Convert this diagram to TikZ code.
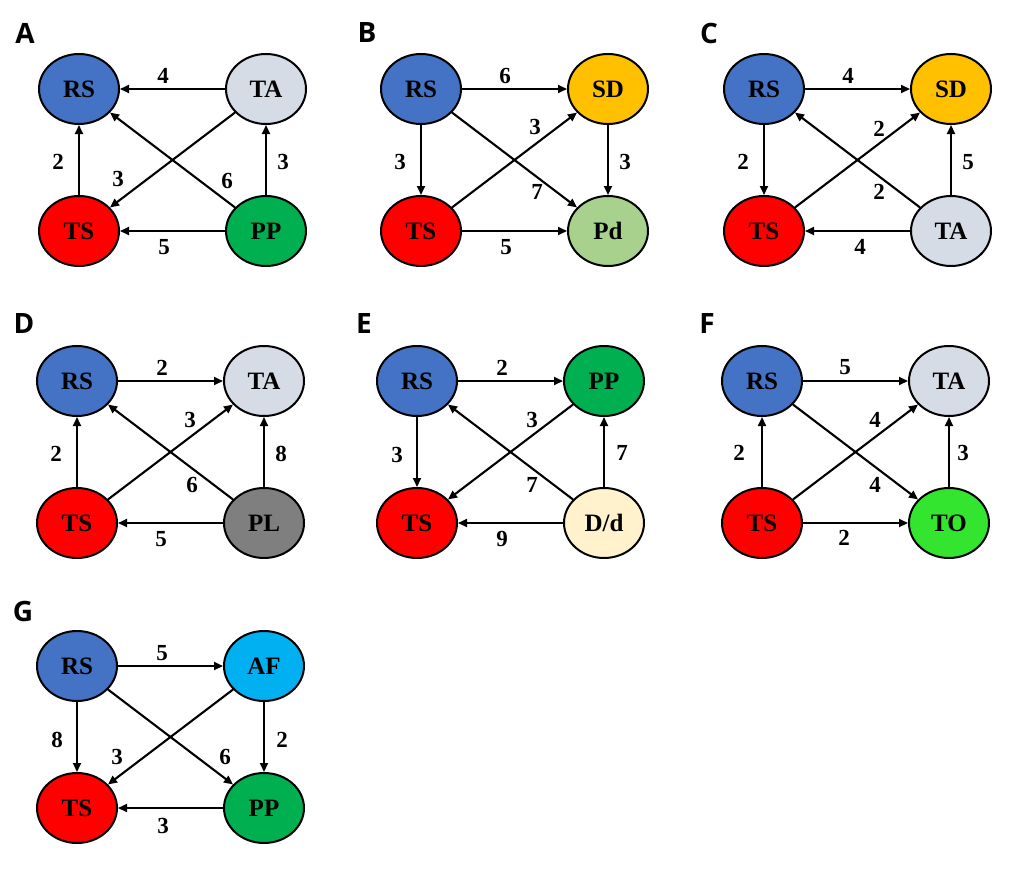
\documentclass[tikz,border=0pt]{standalone}
\usepackage{fontspec}
\setmainfont{Liberation Serif}
\newfontfamily\panelfont{Open Sans}
\usetikzlibrary{shapes.geometric,arrows.meta}
\definecolor{rsblue}{HTML}{4472C4}
\definecolor{tagray}{HTML}{D6DCE5}
\definecolor{tsred}{HTML}{FF0000}
\definecolor{ppgreen}{HTML}{00B050}
\definecolor{sdgold}{HTML}{FFC000}
\definecolor{pdgreen}{HTML}{A9D18E}
\definecolor{plgray}{HTML}{7F7F7F}
\definecolor{ddcream}{HTML}{FFF2CC}
\definecolor{togreen}{HTML}{33E52E}
\definecolor{afblue}{HTML}{00B0F0}
\tikzset{
  st/.style={ellipse, draw=black, line width=2pt, minimum width=80pt, minimum height=70pt, inner sep=0pt, font=\fontsize{25}{25}\selectfont\bfseries},
  arr/.style={line width=2.1pt, -{Triangle[length=9pt,width=8pt]}},
  num/.style={font=\fontsize{23}{23}\selectfont\bfseries, inner sep=0pt},
  plbl/.style={font=\fontsize{28}{28}\selectfont\panelfont\bfseries, inner sep=0pt}
}
\begin{document}
\begin{tikzpicture}[x=1pt,y=-1pt]
\useasboundingbox[fill=white] (0,0) rectangle (1010,870);
% Panel A
\begin{scope}[shift={(79,89)}]
\node[plbl] (aL) at (-54,-56) {A};
\node[st, fill=rsblue] (aRS) at (0,0) {RS};
\node[st, fill=tagray] (aTA) at (187,0) {TA};
\node[st, fill=tsred] (aTS) at (0,142) {TS};
\node[st, fill=ppgreen] (aPP) at (187,142) {PP};
\draw[arr] (aTA) -- (aRS);
\draw[arr] (aTS) -- (aRS);
\draw[arr] (aPP) -- (aTA);
\draw[arr] (aPP) -- (aTS);
\draw[arr] (aTA) -- (aTS);
\draw[arr] (aPP) -- (aRS);
\node[num] (aN1) at (84,-13) {4};
\node[num] (aN2) at (-21,73) {2};
\node[num] (aN3) at (204,73) {3};
\node[num] (aN4) at (85,158) {5};
\node[num] (aN5) at (39,90) {3};
\node[num] (aN6) at (148,92) {6};
\end{scope}
% Panel B
\begin{scope}[shift={(421,89)}]
\node[plbl] (bL) at (-54,-56) {B};
\node[st, fill=rsblue] (bRS) at (0,0) {RS};
\node[st, fill=sdgold] (bSD) at (187,0) {SD};
\node[st, fill=tsred] (bTS) at (0,142) {TS};
\node[st, fill=pdgreen] (bPd) at (187,142) {Pd};
\draw[arr] (bRS) -- (bSD);
\draw[arr] (bRS) -- (bTS);
\draw[arr] (bSD) -- (bPd);
\draw[arr] (bTS) -- (bPd);
\draw[arr] (bTS) -- (bSD);
\draw[arr] (bRS) -- (bPd);
\node[num] (bN1) at (84,-13) {6};
\node[num] (bN2) at (-21,73) {3};
\node[num] (bN3) at (204,73) {3};
\node[num] (bN4) at (85,158) {5};
\node[num] (bN5) at (114,38) {3};
\node[num] (bN6) at (116,103) {7};
\end{scope}
% Panel C
\begin{scope}[shift={(764,89)}]
\node[plbl] (cL) at (-55,-56) {C};
\node[st, fill=rsblue] (cRS) at (0,0) {RS};
\node[st, fill=sdgold] (cSD) at (187,0) {SD};
\node[st, fill=tsred] (cTS) at (0,142) {TS};
\node[st, fill=tagray] (cTA) at (187,142) {TA};
\draw[arr] (cRS) -- (cSD);
\draw[arr] (cRS) -- (cTS);
\draw[arr] (cTA) -- (cSD);
\draw[arr] (cTA) -- (cTS);
\draw[arr] (cTS) -- (cSD);
\draw[arr] (cTA) -- (cRS);
\node[num] (cN1) at (84,-13) {4};
\node[num] (cN2) at (-21,73) {2};
\node[num] (cN3) at (204,73) {5};
\node[num] (cN4) at (96,158) {4};
\node[num] (cN5) at (115,40) {2};
\node[num] (cN6) at (115,103) {2};
\end{scope}
% Panel D
\begin{scope}[shift={(77,381)}]
\node[plbl] (dL) at (-53,-57) {D};
\node[st, fill=rsblue] (dRS) at (0,0) {RS};
\node[st, fill=tagray] (dTA) at (187,0) {TA};
\node[st, fill=tsred] (dTS) at (0,142) {TS};
\node[st, fill=plgray] (dPL) at (187,142) {PL};
\draw[arr] (dRS) -- (dTA);
\draw[arr] (dTS) -- (dRS);
\draw[arr] (dPL) -- (dTA);
\draw[arr] (dPL) -- (dTS);
\draw[arr] (dTS) -- (dTA);
\draw[arr] (dPL) -- (dRS);
\node[num] (dN1) at (85,-13) {2};
\node[num] (dN2) at (-21,73) {2};
\node[num] (dN3) at (204,73) {8};
\node[num] (dN4) at (84,158) {5};
\node[num] (dN5) at (113,39) {3};
\node[num] (dN6) at (115,104) {6};
\end{scope}
% Panel E
\begin{scope}[shift={(417,381)}]
\node[plbl] (eL) at (-53,-57) {E};
\node[st, fill=rsblue] (eRS) at (0,0) {RS};
\node[st, fill=ppgreen] (ePP) at (187,0) {PP};
\node[st, fill=tsred] (eTS) at (0,142) {TS};
\node[st, fill=ddcream] (eDd) at (187,142) {D/d};
\draw[arr] (eRS) -- (ePP);
\draw[arr] (eRS) -- (eTS);
\draw[arr] (eDd) -- (ePP);
\draw[arr] (eDd) -- (eTS);
\draw[arr] (ePP) -- (eTS);
\draw[arr] (eDd) -- (eRS);
\node[num] (eN1) at (85,-13) {2};
\node[num] (eN2) at (-20,74) {3};
\node[num] (eN3) at (205,72) {7};
\node[num] (eN4) at (85,158) {9};
\node[num] (eN5) at (115,39) {3};
\node[num] (eN6) at (115,104) {7};
\end{scope}
% Panel F
\begin{scope}[shift={(762,381)}]
\node[plbl] (fL) at (-55,-57) {F};
\node[st, fill=rsblue] (fRS) at (0,0) {RS};
\node[st, fill=tagray] (fTA) at (187,0) {TA};
\node[st, fill=tsred] (fTS) at (0,142) {TS};
\node[st, fill=togreen] (fTO) at (187,142) {TO};
\draw[arr] (fRS) -- (fTA);
\draw[arr] (fTS) -- (fRS);
\draw[arr] (fTO) -- (fTA);
\draw[arr] (fTS) -- (fTO);
\draw[arr] (fTS) -- (fTA);
\draw[arr] (fRS) -- (fTO);
\node[num] (fN1) at (83,-14) {5};
\node[num] (fN2) at (-23,72) {2};
\node[num] (fN3) at (201,72) {3};
\node[num] (fN4) at (82,157) {2};
\node[num] (fN5) at (113,39) {4};
\node[num] (fN6) at (113,104) {4};
\end{scope}
% Panel G
\begin{scope}[shift={(77,666)}]
\node[plbl] (gL) at (-54,-55) {G};
\node[st, fill=rsblue] (gRS) at (0,0) {RS};
\node[st, fill=afblue] (gAF) at (187,0) {AF};
\node[st, fill=tsred] (gTS) at (0,142) {TS};
\node[st, fill=ppgreen] (gPP) at (187,142) {PP};
\draw[arr] (gRS) -- (gAF);
\draw[arr] (gRS) -- (gTS);
\draw[arr] (gAF) -- (gPP);
\draw[arr] (gPP) -- (gTS);
\draw[arr] (gAF) -- (gTS);
\draw[arr] (gRS) -- (gPP);
\node[num] (gN1) at (85,-13) {5};
\node[num] (gN2) at (-20,74) {8};
\node[num] (gN3) at (205,74) {2};
\node[num] (gN4) at (86,160) {3};
\node[num] (gN5) at (40,91) {3};
\node[num] (gN6) at (148,91) {6};
\end{scope}
\end{tikzpicture}
\end{document}
